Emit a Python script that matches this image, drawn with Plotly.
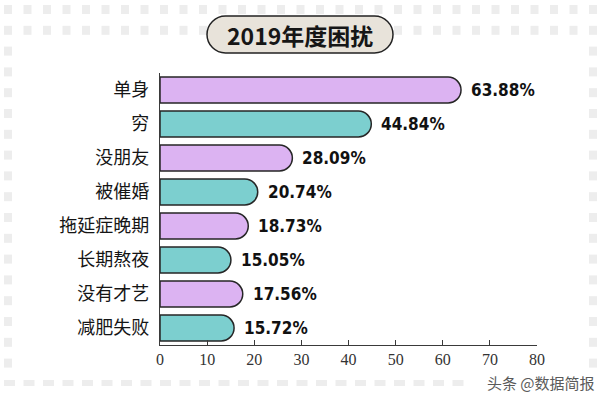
import plotly.graph_objects as go

W, H = 603, 395

categories = ["单身", "穷", "没朋友", "被催婚", "拖延症晚期", "长期熬夜", "没有才艺", "减肥失败"]
values = [63.88, 44.84, 28.09, 20.74, 18.73, 15.05, 17.56, 15.72]
value_labels = ["63.88%", "44.84%", "28.09%", "20.74%", "18.73%", "15.05%", "17.56%", "15.72%"]
x_ticks = [0, 10, 20, 30, 40, 50, 60, 70, 80]
title_text = "2019年度困扰"
watermark = "头条 @数据简报"

PURPLE = "#dcb3f2"
TEAL = "#7ccfcf"
bar_colors = [PURPLE if i % 2 == 0 else TEAL for i in range(len(categories))]

# plot area in pixels
PX0, PX1 = 160, 537
PY0, PY1 = 73, 345


def px(x):
    return x / W


def py(y):
    return 1 - y / H


fig = go.Figure()
fig.add_trace(go.Bar(
    x=values, y=categories, orientation="h",
    marker=dict(color=bar_colors, line=dict(color="#262626", width=1.5), cornerradius="50%"),
    width=0.76, hoverinfo="skip",
))

annotations = []
for c, v, t in zip(categories, values, value_labels):
    annotations.append(dict(
        x=v, y=c, xref="x", yref="y", text=t, showarrow=False,
        xanchor="left", yanchor="middle", xshift=8,
        font=dict(family="DejaVu Sans Condensed, sans-serif",
                  size=17, color="#111111", weight="bold"),
    ))

annotations.append(dict(
    x=px(300), y=py(35), xref="paper", yref="paper", text="<b>" + title_text + "</b>",
    showarrow=False, xanchor="center", yanchor="middle",
    font=dict(family="Noto Sans CJK SC", size=23, color="#161616"),
))
annotations.append(dict(
    x=px(597), y=py(382), xref="paper", yref="paper", text=watermark,
    showarrow=False, xanchor="right", yanchor="middle",
    font=dict(family="Noto Sans CJK SC", size=15, color="#5a5a5a"),
))

shapes = []
# decorative square border
SQ = "#ededed"
cols = [4 + 19.5 * i for i in range(31)]
rows = [5 + 20.8 * j for j in range(18)]
for r_i, yy in enumerate(rows):
    for c_i, xx in enumerate(cols):
        if r_i < 2 or c_i == 0 or c_i == len(cols) - 1:
            shapes.append(dict(type="rect", xref="paper", yref="paper",
                               x0=px(xx), x1=px(xx + 8), y0=py(yy), y1=py(yy + 9),
                               fillcolor=SQ, line=dict(width=0), layer="below"))
for c_i, xx in enumerate(cols):
    if c_i < 24:
        shapes.append(dict(type="rect", xref="paper", yref="paper",
                           x0=px(xx), x1=px(xx + 11), y0=py(380), y1=py(386),
                           fillcolor=SQ, line=dict(width=0), layer="below"))

# title pill
L, R, T, B = 207, 393, 16, 53
r = (B - T) / 2
k = 0.5523 * r
pts = (
    f"M {px(L + r)},{py(T)} L {px(R - r)},{py(T)} "
    f"C {px(R - r + k)},{py(T)} {px(R)},{py(T + r - k)} {px(R)},{py(T + r)} "
    f"C {px(R)},{py(T + r + k)} {px(R - r + k)},{py(B)} {px(R - r)},{py(B)} "
    f"L {px(L + r)},{py(B)} "
    f"C {px(L + r - k)},{py(B)} {px(L)},{py(T + r + k)} {px(L)},{py(T + r)} "
    f"C {px(L)},{py(T + r - k)} {px(L + r - k)},{py(T)} {px(L + r)},{py(T)} Z"
)
shapes.append(dict(type="path", xref="paper", yref="paper", path=pts,
                   fillcolor="#e8e3da", line=dict(color="#222222", width=1.5), layer="below"))

fig.update_layout(
    width=W, height=H,
    margin=dict(l=0, r=0, t=0, b=0),
    paper_bgcolor="white", plot_bgcolor="rgba(0,0,0,0)",
    showlegend=False,
    annotations=annotations,
    shapes=shapes,
    xaxis=dict(
        domain=[px(PX0), px(PX1)], range=[0, 80], tickvals=x_ticks, automargin=False,
        showgrid=False, zeroline=False, showline=True, linecolor="#3a3a3a", linewidth=1,
        ticks="inside", ticklen=5, tickcolor="#3a3a3a",
        tickfont=dict(family="Liberation Serif", size=16, color="#333333"),
        fixedrange=True,
    ),
    yaxis=dict(
        domain=[py(PY1), py(PY0)], categoryorder="array", categoryarray=categories,
        autorange="reversed", automargin=False,
        showgrid=False, zeroline=False, showline=True, linecolor="#3a3a3a", linewidth=1.2,
        ticks="", ticklabelstandoff=6,
        tickfont=dict(family="Noto Sans CJK SC", size=18, color="#151515"),
        fixedrange=True,
    ),
)

fig.write_html(
    "out.html",
    config={"displayModeBar": False},
    post_script="document.body.style.margin='0';document.body.style.overflow='hidden';",
)
